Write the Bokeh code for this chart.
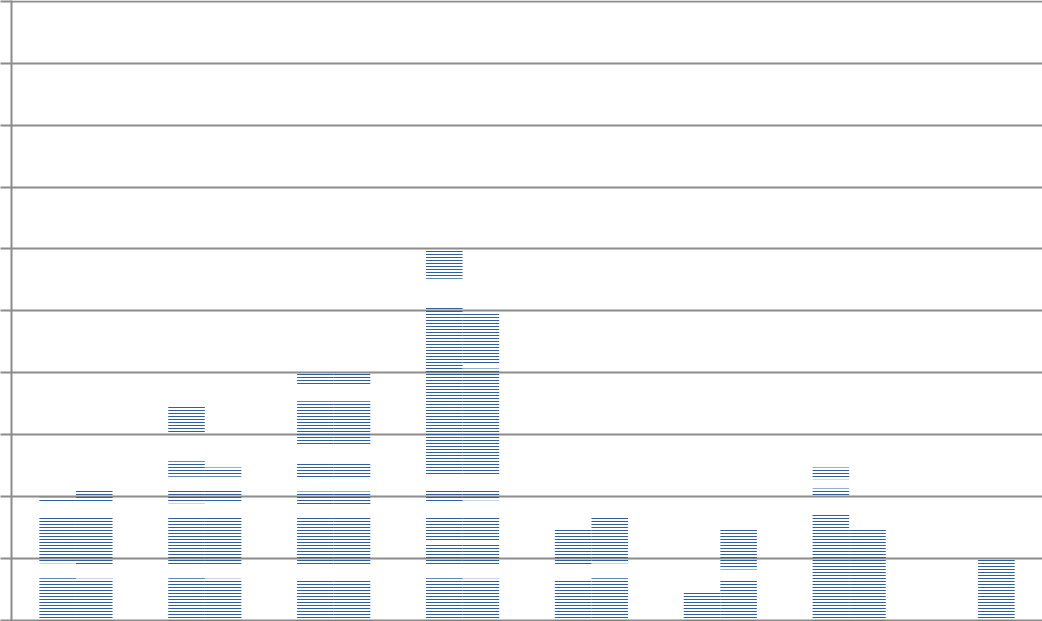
from bokeh.plotting import figure
from bokeh.models import ColumnDataSource, FactorRange, Range1d, SingleIntervalTicker, CustomJSTickFormatter
from bokeh.transform import dodge
from bokeh.embed import file_html
from bokeh.resources import INLINE

categories = ["A", "B", "C", "D", "E", "F", "G", "H"]

# floating segments of the left bar of each category (bottom / top values)
left_bottoms = [
    [0, 9.2, 19.1],
    [0, 9.0, 18.9, 23.2, 30.1],
    [0, 9.0, 18.8, 23.1, 28.2, 38.1],
    [0, 9.0, 12.9, 19.0, 23.3, 55.2],
    [0, 8.9],
    [0],
    [0, 20.2, 22.8],
    [],
]
left_tops = [
    [6.8, 16.8, 19.8],
    [6.8, 16.7, 21.0, 25.7, 34.7],
    [6.6, 16.5, 20.8, 25.5, 35.4, 39.8],
    [6.8, 12.3, 16.7, 21.0, 50.7, 59.8],
    [6.6, 14.7],
    [4.7],
    [17.0, 21.3, 24.7],
    [],
]

# floating segments of the right bar of each category
right_bottoms = [
    [0, 9.0, 19.0],
    [0, 9.0, 19.0, 23.2],
    [0, 9.0, 18.8, 23.1, 28.2, 38.1],
    [0, 9.0, 12.9, 19.4, 23.3, 41.5],
    [0, 9.2],
    [0, 8.2],
    [0],
    [0],
]
right_tops = [
    [6.7, 16.6, 20.9],
    [6.7, 16.6, 20.9, 24.7],
    [6.6, 16.5, 20.8, 25.5, 35.4, 39.8],
    [6.7, 12.3, 16.6, 20.9, 40.7, 49.8],
    [6.8, 16.8],
    [6.6, 14.7],
    [14.7],
    [9.8],
]


def flatten(bottoms, tops):
    cat, b, t = [], [], []
    for c, bs, ts in zip(categories, bottoms, tops):
        for lo, hi in zip(bs, ts):
            cat.append(c)
            b.append(lo)
            t.append(hi)
    return ColumnDataSource(dict(cat=cat, bottom=b, top=t))


left_src = flatten(left_bottoms, left_tops)
right_src = flatten(right_bottoms, right_tops)

p = figure(
    x_range=FactorRange(*categories, range_padding=0),
    y_range=Range1d(-0.21, 100.16),
    width=1042, height=621,
    output_backend="svg", toolbar_location=None,
    min_border_left=11, min_border_right=0, min_border_top=0, min_border_bottom=0,
)
p.outline_line_color = None
p.background_fill_color = "white"
p.border_fill_color = "white"

bar_w = 0.284
hatch_kw = dict(fill_color=None, line_color=None,
                hatch_pattern="horizontal_line", hatch_color="#2f5f9f",
                hatch_scale=3, hatch_weight=1)

p.vbar(x=dodge("cat", -bar_w / 2, range=p.x_range), width=bar_w,
       bottom="bottom", top="top", source=left_src, **hatch_kw)
p.vbar(x=dodge("cat", bar_w / 2, range=p.x_range), width=bar_w,
       bottom="bottom", top="top", source=right_src, **hatch_kw)

p.xaxis.visible = False
p.xgrid.visible = False

p.yaxis.ticker = SingleIntervalTicker(interval=10)
p.yaxis.formatter = CustomJSTickFormatter(code="return ''")
p.yaxis.major_label_standoff = 0
p.yaxis.major_tick_out = 11
p.yaxis.major_tick_in = 0
p.yaxis.minor_tick_line_color = None
p.yaxis.axis_line_color = "#8c8c8c"
p.yaxis.axis_line_width = 2
p.yaxis.major_tick_line_color = "#8c8c8c"
p.yaxis.major_tick_line_width = 2

p.ygrid.grid_line_color = "#8c8c8c"
p.ygrid.grid_line_width = 2
p.ygrid.ticker = SingleIntervalTicker(interval=10)

open("out.html", "w").write(file_html(p, INLINE))
